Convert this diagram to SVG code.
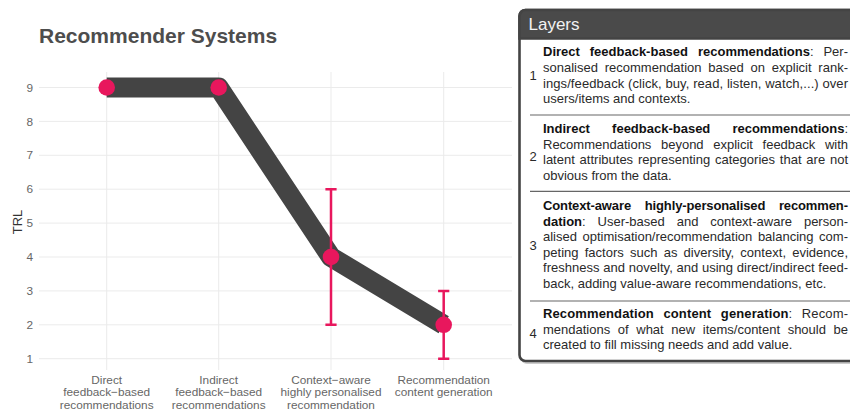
<svg xmlns="http://www.w3.org/2000/svg" width="850" height="412" viewBox="0 0 850 412">
  <style>
    .grid { stroke: #ebebeb; stroke-width: 1; fill: none; }
    .tick { font-family: "Liberation Sans", Arial, sans-serif; font-size: 11.8px; fill: #666; text-anchor: end; }
    .xlab { font-family: "Liberation Sans", Arial, sans-serif; font-size: 11.8px; fill: #666; text-anchor: middle; }
    .title { font-family: "Liberation Sans", Arial, sans-serif; font-size: 21px; font-weight: bold; fill: #4d4d4d; }
    .axis-title { font-family: "Liberation Sans", Arial, sans-serif; font-size: 13px; fill: #333; }
    .trend { stroke: #444; stroke-width: 20; fill: none; stroke-linejoin: round; stroke-linecap: butt; }
    .err { stroke: #e8175d; stroke-width: 2.5; fill: none; }
    .pt { fill: #e8175d; }
    .body { font-family: "Liberation Sans", Arial, sans-serif; font-size: 13px; fill: #2a2a2a; }
    .b { font-weight: bold; fill: #111; }
    .num { font-family: "Liberation Sans", Arial, sans-serif; font-size: 13px; fill: #2a2a2a; }
    .sep { stroke: #666; stroke-width: 1.2; }
  </style>

  <!-- chart title -->
  <text class="title" x="39" y="43">Recommender Systems</text>

  <!-- panel grid -->
  <g id="grid">
    <line class="grid" x1="39" y1="358.7" x2="512" y2="358.7"/>
    <line class="grid" x1="39" y1="324.8" x2="512" y2="324.8"/>
    <line class="grid" x1="39" y1="290.9" x2="512" y2="290.9"/>
    <line class="grid" x1="39" y1="257.0" x2="512" y2="257.0"/>
    <line class="grid" x1="39" y1="223.1" x2="512" y2="223.1"/>
    <line class="grid" x1="39" y1="189.2" x2="512" y2="189.2"/>
    <line class="grid" x1="39" y1="155.3" x2="512" y2="155.3"/>
    <line class="grid" x1="39" y1="121.4" x2="512" y2="121.4"/>
    <line class="grid" x1="39" y1="87.5" x2="512" y2="87.5"/>
    <line class="grid" x1="106.7" y1="72" x2="106.7" y2="370"/>
    <line class="grid" x1="218.7" y1="72" x2="218.7" y2="370"/>
    <line class="grid" x1="331" y1="72" x2="331" y2="370"/>
    <line class="grid" x1="443.7" y1="72" x2="443.7" y2="370"/>
  </g>

  <!-- y axis -->
  <g id="y-axis">
    <text class="tick" x="33" y="362.8">1</text>
    <text class="tick" x="33" y="328.9">2</text>
    <text class="tick" x="33" y="295.0">3</text>
    <text class="tick" x="33" y="261.1">4</text>
    <text class="tick" x="33" y="227.2">5</text>
    <text class="tick" x="33" y="193.3">6</text>
    <text class="tick" x="33" y="159.4">7</text>
    <text class="tick" x="33" y="125.5">8</text>
    <text class="tick" x="33" y="91.6">9</text>
    <text class="axis-title" transform="translate(22,222) rotate(-90)" text-anchor="middle">TRL</text>
  </g>

  <!-- x axis labels -->
  <g id="x-axis">
    <text class="xlab" x="106.7" y="383.8">Direct</text>
    <text class="xlab" x="106.7" y="396.4">feedback−based</text>
    <text class="xlab" x="106.7" y="409">recommendations</text>
    <text class="xlab" x="218.7" y="383.8">Indirect</text>
    <text class="xlab" x="218.7" y="396.4">feedback−based</text>
    <text class="xlab" x="218.7" y="409">recommendations</text>
    <text class="xlab" x="331" y="383.8">Context−aware</text>
    <text class="xlab" x="331" y="396.4">highly personalised</text>
    <text class="xlab" x="331" y="409">recommendation</text>
    <text class="xlab" x="443.7" y="383.8">Recommendation</text>
    <text class="xlab" x="443.7" y="396.4">content generation</text>
  </g>

  <!-- TRL trend, error bars and points -->
  <g id="connectors">
    <path class="trend" d="M106.7,87.5 L218.7,87.5 L331,257 L443.7,324.8"/>
  </g>
  <g id="errorbars">
    <path class="err" d="M331,189.2 V324.8 M325.4,189.2 H336.6 M325.4,324.8 H336.6"/>
    <path class="err" d="M443.7,290.9 V358.7 M438.1,290.9 H449.3 M438.1,358.7 H449.3"/>
  </g>
  <g id="node-direct"><circle class="pt" cx="106.7" cy="87.5" r="8.3"/></g>
  <g id="node-indirect"><circle class="pt" cx="218.7" cy="87.5" r="8.3"/></g>
  <g id="node-context"><circle class="pt" cx="331" cy="257" r="8.3"/></g>
  <g id="node-generation"><circle class="pt" cx="443.7" cy="324.8" r="8.3"/></g>

  <!-- Layers table -->
  <g id="layers-table">
    <rect x="521" y="12" width="345" height="352" rx="6" fill="#9a9a9a" opacity="0.5"/>
    <rect x="519.5" y="10" width="345" height="351" rx="6" fill="#fff" stroke="#444" stroke-width="2.6"/>
    <path d="M519.5,38.5 V16 A6,6 0 0 1 525.5,10 H864.5 V38.5 Z" fill="#4a4a4a" stroke="#444" stroke-width="2.6"/>
    <text x="528.5" y="29.5" font-family="'Liberation Sans', Arial, sans-serif" font-size="17" fill="#f2f2f2">Layers</text>

    <g id="layer-1">
      <text class="num" x="529.5" y="80">1</text>
      <text class="body" x="543" y="56.3" textLength="305" lengthAdjust="spacing" word-spacing="6.3"><tspan class="b">Direct feedback-based recommendations</tspan>: Per-</text>
      <text class="body" x="543" y="71.9" textLength="305" lengthAdjust="spacing" word-spacing="3.2">sonalised recommendation based on explicit rank-</text>
      <text class="body" x="543" y="87.5" textLength="305" lengthAdjust="spacing">ings/feedback (click, buy, read, listen, watch,...) over</text>
      <text class="body" x="543" y="103.1">users/items and contexts.</text>
      <line class="sep" x1="530" y1="115" x2="850" y2="115"/>
    </g>

    <g id="layer-2">
      <text class="num" x="529.5" y="160.5">2</text>
      <text class="body" x="543" y="133.1" textLength="305" lengthAdjust="spacing" word-spacing="18.5"><tspan class="b">Indirect feedback-based recommendations</tspan>:</text>
      <text class="body" x="543" y="148.7" textLength="305" lengthAdjust="spacing" word-spacing="6">Recommendations beyond explicit feedback with</text>
      <text class="body" x="543" y="164.3" textLength="305" lengthAdjust="spacing" word-spacing="1.2">latent attributes representing categories that are not</text>
      <text class="body" x="543" y="179.9">obvious from the data.</text>
      <line class="sep" x1="530" y1="191.4" x2="850" y2="191.4"/>
    </g>

    <g id="layer-3">
      <text class="num" x="529.5" y="250">3</text>
      <text class="body" x="543" y="209.9" textLength="305" lengthAdjust="spacing" word-spacing="10.2"><tspan class="b">Context-aware highly-personalised recommen-</tspan></text>
      <text class="body" x="543" y="225.5" textLength="305" lengthAdjust="spacing" word-spacing="8.3"><tspan class="b">dation</tspan>: User-based and context-aware person-</text>
      <text class="body" x="543" y="241.1" textLength="305" lengthAdjust="spacing" word-spacing="2">alised optimisation/recommendation balancing com-</text>
      <text class="body" x="543" y="256.7" textLength="305" lengthAdjust="spacing" word-spacing="2.5">peting factors such as diversity, context, evidence,</text>
      <text class="body" x="543" y="272.3" textLength="305" lengthAdjust="spacing">freshness and novelty, and using direct/indirect feed-</text>
      <text class="body" x="543" y="287.9">back, adding value-aware recommendations, etc.</text>
      <line class="sep" x1="530" y1="301" x2="850" y2="301"/>
    </g>

    <g id="layer-4">
      <text class="num" x="529.5" y="338">4</text>
      <text class="body" x="543" y="317.9" textLength="305" lengthAdjust="spacing" word-spacing="5.8"><tspan class="b">Recommendation content generation</tspan>: Recom-</text>
      <text class="body" x="543" y="333.5" textLength="305" lengthAdjust="spacing" word-spacing="4">mendations of what new items/content should be</text>
      <text class="body" x="543" y="349.1">created to fill missing needs and add value.</text>
    </g>
  </g>
</svg>
